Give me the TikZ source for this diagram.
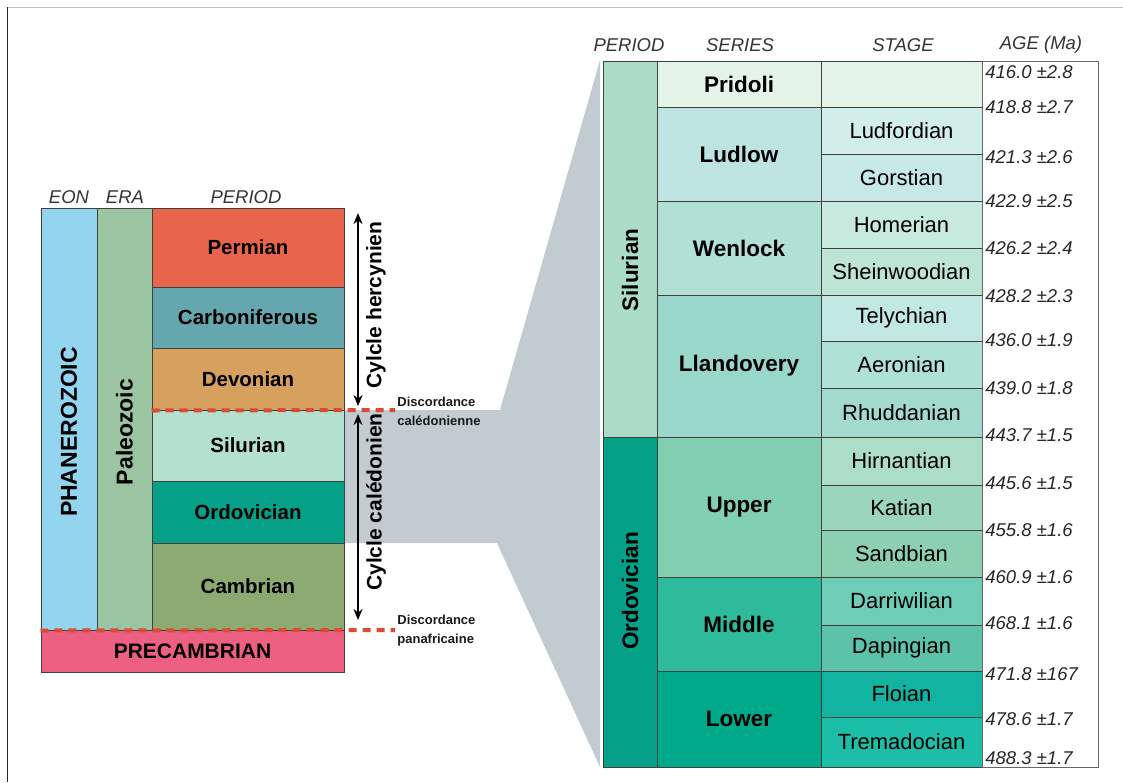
\documentclass[tikz,border=0pt]{standalone}
\usepackage{fontspec}
\setmainfont{Liberation Sans}
\usepackage{tikz}
\usetikzlibrary{arrows,arrows.meta,positioning}

\definecolor{eoncol}{HTML}{93D4EE}
\definecolor{eracol}{HTML}{9BC4A3}
\definecolor{permcol}{HTML}{E8644A}
\definecolor{carbcol}{HTML}{65A7AF}
\definecolor{devocol}{HTML}{D6A05E}
\definecolor{silcol}{HTML}{B3E1CE}
\definecolor{silRcol}{HTML}{ABDCC6}
\definecolor{ordcol}{HTML}{05A088}
\definecolor{cambcol}{HTML}{8CAA72}
\definecolor{precol}{HTML}{EE6081}
\definecolor{zoomcol}{HTML}{C2CBCF}
\definecolor{disccol}{HTML}{DD4B34}
% series
\definecolor{pridcol}{HTML}{E4F4E8}
\definecolor{ludlcol}{HTML}{BEE4E1}
\definecolor{wenlcol}{HTML}{B2E0D5}
\definecolor{llancol}{HTML}{9AD7CB}
\definecolor{uppcol}{HTML}{82CEB0}
\definecolor{midcol}{HTML}{2DBB9C}
\definecolor{lowcol}{HTML}{00A98A}
% stages
\definecolor{ludfcol}{HTML}{D2EEEA}
\definecolor{gorscol}{HTML}{C6E9E8}
\definecolor{homecol}{HTML}{C8E9DE}
\definecolor{sheicol}{HTML}{BEE4D6}
\definecolor{telycol}{HTML}{C2E8E3}
\definecolor{aerocol}{HTML}{B0E1D6}
\definecolor{rhudcol}{HTML}{A2DACE}
\definecolor{hirncol}{HTML}{ACDDC6}
\definecolor{katicol}{HTML}{9AD5BC}
\definecolor{sandcol}{HTML}{8DCFB1}
\definecolor{darrcol}{HTML}{6ECCB7}
\definecolor{dapicol}{HTML}{5CC2AA}
\definecolor{floicol}{HTML}{12B3A0}
\definecolor{tremcol}{HTML}{1DBEA7}

\begin{document}
\begin{tikzpicture}[x=0.5pt, y=-0.5pt,
    cell/.style={rectangle, draw=black!75, line width=0.5pt, inner sep=0pt, font=\bfseries\fontsize{10.25}{12}\selectfont},
    series/.style={cell, font=\bfseries\fontsize{11.25}{13}\selectfont},
    stage/.style={cell, font=\fontsize{11}{13}\selectfont},
    hdr/.style={inner sep=0pt, text=black!80, font=\itshape\fontsize{9.25}{11}\selectfont},
    age/.style={anchor=west, inner sep=0pt, text=black!85, font=\itshape\fontsize{9.25}{11}\selectfont},
    vlabel/.style={rotate=90, inner sep=0pt, font=\bfseries\fontsize{11.5}{13}\selectfont},
    cyc/.style={rotate=90, inner sep=0pt, font=\bfseries\fontsize{10.5}{12}\selectfont},
    disc/.style={anchor=west, align=left, inner sep=0pt, text=black!90, font=\bfseries\fontsize{6.5}{9.5}\selectfont},
    discline/.style={disccol, line width=2pt, dash pattern=on 4pt off 3pt},
    arrow/.style={{Stealth[length=5.5pt,width=4.5pt]}-{Stealth[length=5.5pt,width=4.5pt]}, line width=1pt}]

    \useasboundingbox (0,0) rectangle (1123,782);
    % page frame
    \draw[black!25, line width=0.5pt] (7,7) -- (1123,7);
    \draw[black!85, line width=0.6pt] (7.5,7) -- (7.5,782);

    % zoom band behind the tables
    \fill[zoomcol] (344,410) -- (500,410) -- (600,60) -- (600,767) -- (497,543) -- (344,543) -- cycle;

    % left column: eon, era, periods
    \node[hdr] (heon) at (69,197) {EON};
    \node[hdr] (hera) at (125,197) {ERA};
    \node[hdr] (hper) at (246,197) {PERIOD};

    \node[cell, fill=eoncol, minimum width=28pt, minimum height=211pt] (eon) at (69,419) {};
    \node[cell, fill=eracol, minimum width=27.5pt, minimum height=211pt] (era) at (124.5,419) {};
    \node[vlabel] (phanero) at (69,432) {PHANEROZOIC};
    \node[vlabel] (paleo) at (124.5,432) {Paleozoic};

    \node[cell, fill=permcol, minimum width=96pt, minimum height=39.5pt] (perm) at (248,247.5) {Permian};
    \node[cell, fill=carbcol, minimum width=96pt, minimum height=30.5pt] (carb) at (248,317.5) {Carboniferous};
    \node[cell, fill=devocol, minimum width=96pt, minimum height=31pt] (devo) at (248,379) {Devonian};
    \node[cell, fill=silcol, minimum width=96pt, minimum height=35.5pt] (sil) at (248,445.5) {Silurian};
    \node[cell, fill=ordcol, minimum width=96pt, minimum height=31pt] (ord) at (248,512) {Ordovician};
    \node[cell, fill=cambcol, minimum width=96pt, minimum height=43.5pt] (camb) at (248,586.5) {Cambrian};
    \node[cell, fill=precol, minimum width=151.5pt, minimum height=21pt,
          font=\bfseries\fontsize{10.5}{12}\selectfont] (precamb) at (192.5,651) {PRECAMBRIAN};

    % discordances
    \coordinate (dcalend) at (395,410);
    \coordinate (dpanend) at (395,630);
    \draw[discline] (devo.south west) -- (dcalend);
    \draw[discline] (eon.south west) -- (dpanend);
    \node[disc] (dcal) at (397,411.5) {Discordance\\calédonienne};
    \node[disc] (dpan) at (397,631) {Discordance\\panafricaine};

    % orogenic cycles
    \coordinate (herctop) at (358,213);
    \coordinate (hercbot) at (358,406);
    \coordinate (caltop) at (358,414);
    \coordinate (calbot) at (358,620);
    \draw[arrow] (herctop) -- (hercbot);
    \draw[arrow] (caltop) -- (calbot);
    \node[cyc] (herc) at (376,305) {Cylcle hercynien};
    \node[cyc] (cal) at (376,502) {Cylcle calédonien};

    % right column: detail of Silurian and Ordovician
    \node[hdr] (hperR) at (629,45) {PERIOD};
    \node[hdr] (hser) at (740,45) {SERIES};
    \node[hdr] (hsta) at (903,45) {STAGE};
    \node[hdr] (hage) at (1041,45) {AGE (Ma)};

    \node[cell, fill=silRcol, minimum width=27pt, minimum height=188pt] (silR) at (630,249) {};
    \node[cell, fill=ordcol, minimum width=27pt, minimum height=165pt] (ordR) at (630,602) {};
    \node[vlabel, font=\bfseries\fontsize{11.25}{13}\selectfont] (silRl) at (630,270) {Silurian};
    \node[vlabel, font=\bfseries\fontsize{11.25}{13}\selectfont] (ordRl) at (630,591) {Ordovician};

    \node[series, fill=pridcol, minimum width=82pt, minimum height=23pt] (prid) at (739,84) {Pridoli};
    \node[series, fill=ludlcol, minimum width=82pt, minimum height=47pt] (ludl) at (739,154) {Ludlow};
    \node[series, fill=wenlcol, minimum width=82pt, minimum height=47pt] (wenl) at (739,248) {Wenlock};
    \node[series, fill=llancol, minimum width=82pt, minimum height=71pt] (llan) at (739,366) {Llandovery};
    \node[series, fill=uppcol, minimum width=82pt, minimum height=70pt] (upper) at (739,507) {Upper};
    \node[series, fill=midcol, minimum width=82pt, minimum height=47pt] (middle) at (739,624) {Middle};
    \node[series, fill=lowcol, minimum width=82pt, minimum height=48pt] (lower) at (739,719) {Lower};

    \node[stage, fill=pridcol, minimum width=80.5pt, minimum height=23pt] (prids) at (901.5,84) {};
    \node[stage, fill=ludfcol, minimum width=80.5pt, minimum height=23.5pt] (ludf) at (901.5,130.5) {Ludfordian};
    \node[stage, fill=gorscol, minimum width=80.5pt, minimum height=23.5pt] (gors) at (901.5,177.5) {Gorstian};
    \node[stage, fill=homecol, minimum width=80.5pt, minimum height=23.5pt] (home) at (901.5,224.5) {Homerian};
    \node[stage, fill=sheicol, minimum width=80.5pt, minimum height=23.5pt] (shei) at (901.5,271.5) {Sheinwoodian};
    \node[stage, fill=telycol, minimum width=80.5pt, minimum height=23pt] (tely) at (901.5,318) {Telychian};
    \node[stage, fill=aerocol, minimum width=80.5pt, minimum height=23.5pt] (aero) at (901.5,364.5) {Aeronian};
    \node[stage, fill=rhudcol, minimum width=80.5pt, minimum height=24.5pt] (rhud) at (901.5,412.5) {Rhuddanian};
    \node[stage, fill=hirncol, minimum width=80.5pt, minimum height=24pt] (hirn) at (901.5,461) {Hirnantian};
    \node[stage, fill=katicol, minimum width=80.5pt, minimum height=22.5pt] (kati) at (901.5,507.5) {Katian};
    \node[stage, fill=sandcol, minimum width=80.5pt, minimum height=23.5pt] (sand) at (901.5,553.5) {Sandbian};
    \node[stage, fill=darrcol, minimum width=80.5pt, minimum height=24pt] (darr) at (901.5,601) {Darriwilian};
    \node[stage, fill=dapicol, minimum width=80.5pt, minimum height=23pt] (dapi) at (901.5,648) {Dapingian};
    \node[stage, fill=floicol, minimum width=80.5pt, minimum height=23pt] (floi) at (901.5,694) {Floian};
    \node[stage, fill=tremcol, minimum width=80.5pt, minimum height=25pt] (trem) at (901.5,742) {Tremadocian};

    \node[draw=black!60, line width=0.5pt, fill=white, minimum width=58pt, minimum height=353pt] (agebox) at (1040,414) {};
    \foreach \y/\a [count=\n] in {72/416.0 ±2.8, 107/418.8 ±2.7, 157/421.3 ±2.6, 201/422.9 ±2.5,
        248/426.2 ±2.4, 296/428.2 ±2.3, 340/436.0 ±1.9, 388/439.0 ±1.8, 435/443.7 ±1.5,
        483/445.6 ±1.5, 530/455.8 ±1.6, 577/460.9 ±1.6, 623/468.1 ±1.6, 674/471.8 ±167,
        719/478.6 ±1.7, 758/488.3 ±1.7}
        \node[age] (age\n) at (985,\y) {\a};

\end{tikzpicture}
\end{document}
